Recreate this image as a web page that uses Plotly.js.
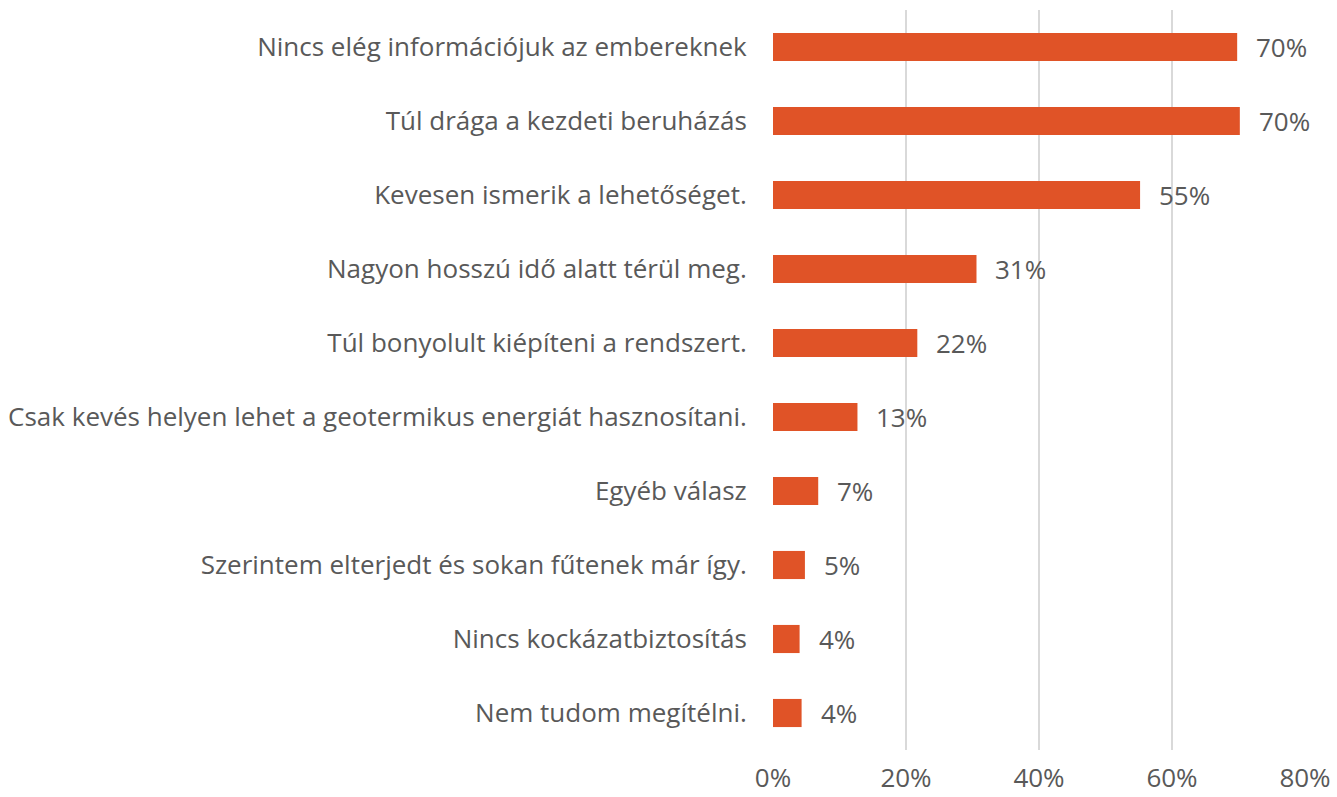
<!DOCTYPE html>
<html>
<head>
<meta charset="utf-8">
<script src="https://cdn.plot.ly/plotly-3.0.1.min.js"></script>
<style>html,body{margin:0;padding:0;background:#fff;}#chart{width:1337px;height:797px;}</style>
</head>
<body>
<div id="chart"></div>
<script>
const categories = [
  "Nincs elég információjuk az embereknek",
  "Túl drága a kezdeti beruházás",
  "Kevesen ismerik a lehetőséget.",
  "Nagyon hosszú idő alatt térül meg.",
  "Túl bonyolult kiépíteni a rendszert.",
  "Csak kevés helyen lehet a geotermikus energiát hasznosítani.",
  "Egyéb válasz",
  "Szerintem elterjedt és sokan fűtenek már így.",
  "Nincs kockázatbiztosítás",
  "Nem tudom megítélni."
];
const values = [69.8, 70.2, 55.2, 30.6, 21.7, 12.7, 6.8, 4.8, 4.0, 4.3];
const valueLabels = ["70%", "70%", "55%", "31%", "22%", "13%", "7%", "5%", "4%", "4%"];
const tickVals = [0, 20, 40, 60, 80];
const tickText = ["0%", "20%", "40%", "60%", "80%"];

const FONT = "Open Sans, sans-serif";
const GREY = "#595959";
const FS = 26;

const trace = {
  type: "bar",
  orientation: "h",
  y: categories,
  x: values,
  marker: {color: "#E05327"},
  hoverinfo: "none",
  width: 0.38
};

const annotations = categories.map((c, i) => ({
  x: values[i], y: c, xref: "x", yref: "y",
  text: valueLabels[i], showarrow: false,
  xanchor: "left", yanchor: "middle", xshift: 17,
  font: {family: FONT, size: FS, color: GREY}
}));

const layout = {
  width: 1337, height: 797,
  margin: {l: 773, r: 32, t: 10, b: 47},
  paper_bgcolor: "#fff", plot_bgcolor: "#fff",
  showlegend: false,
  xaxis: {
    range: [0, 80], tickvals: tickVals, ticktext: tickText,
    showgrid: true, gridcolor: "#D9D9D9", gridwidth: 2,
    zeroline: false, showline: false,
    ticks: "outside", ticklen: 5, tickcolor: "rgba(0,0,0,0)",
    tickfont: {family: FONT, size: FS, color: GREY}
  },
  yaxis: {
    autorange: "reversed", type: "category",
    showgrid: false, zeroline: false, showline: false,
    ticks: "outside", ticklen: 20, tickcolor: "rgba(0,0,0,0)",
    tickfont: {family: FONT, size: FS, color: GREY}
  },
  annotations: annotations
};

Plotly.newPlot("chart", [trace], layout, {displayModeBar: false, staticPlot: true});
</script>
</body>
</html>
